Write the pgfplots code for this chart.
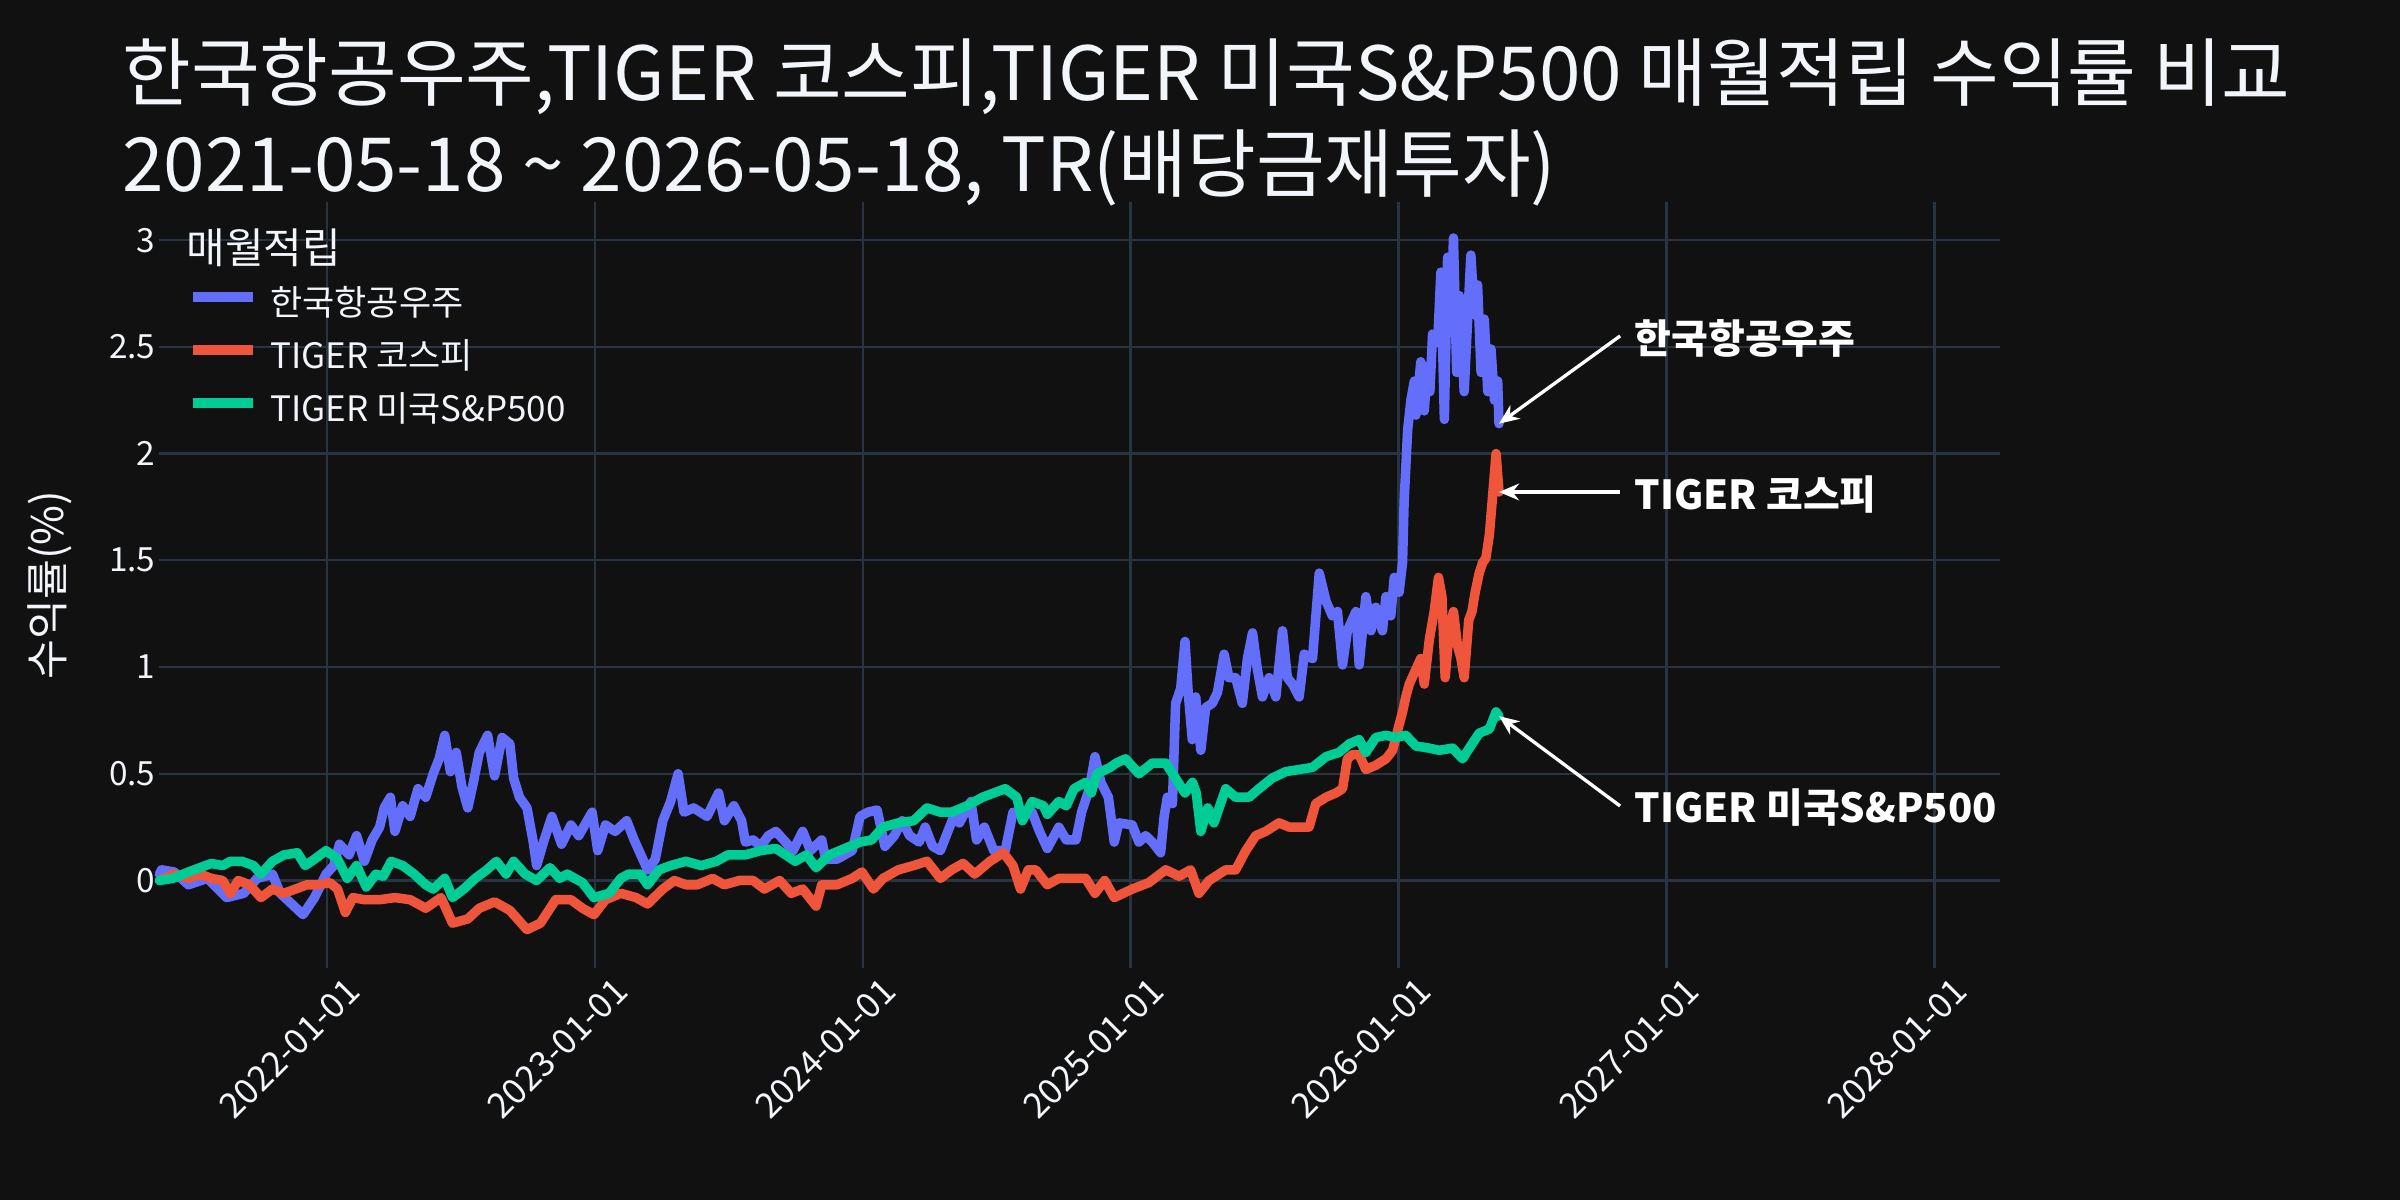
\documentclass[border=0pt]{standalone}
\usepackage{fontspec}
\setmainfont{Noto Sans CJK KR}
\usepackage{pgfplots}
\pgfplotsset{compat=1.18}
\usetikzlibrary{arrows.meta}
\definecolor{bg}{HTML}{111111}
\definecolor{gridc}{HTML}{283442}
\definecolor{fg}{HTML}{F2F5FA}
\definecolor{kai}{HTML}{636EFA}
\definecolor{kospi}{HTML}{EF553B}
\definecolor{spx}{HTML}{00CC96}

\pgfplotstableread{
x y
2021.375 0.03
2021.383 0.05
2021.43 0.04
2021.483 -0.02
2021.554 0.01
2021.626 -0.08
2021.69 -0.06
2021.74 0.01
2021.797 0.03
2021.826 -0.06
2021.869 -0.11
2021.911 -0.16
2021.954 -0.08
2021.997 0.03
2022.026 0.07
2022.047 0.17
2022.083 0.12
2022.111 0.21
2022.14 0.09
2022.169 0.19
2022.197 0.25
2022.214 0.34
2022.237 0.39
2022.254 0.23
2022.283 0.35
2022.311 0.30
2022.34 0.43
2022.369 0.39
2022.397 0.50
2022.419 0.57
2022.44 0.68
2022.461 0.51
2022.483 0.60
2022.504 0.44
2022.526 0.34
2022.547 0.46
2022.569 0.60
2022.6 0.68
2022.626 0.49
2022.654 0.67
2022.683 0.64
2022.697 0.48
2022.719 0.39
2022.747 0.34
2022.769 0.19
2022.783 0.07
2022.811 0.19
2022.84 0.30
2022.876 0.17
2022.911 0.26
2022.94 0.21
2022.99 0.32
2023.011 0.14
2023.04 0.26
2023.076 0.23
2023.119 0.28
2023.147 0.19
2023.197 0.05
2023.226 0.10
2023.254 0.28
2023.283 0.37
2023.311 0.50
2023.333 0.32
2023.369 0.34
2023.419 0.30
2023.462 0.41
2023.484 0.28
2023.519 0.35
2023.548 0.28
2023.562 0.18
2023.591 0.19
2023.619 0.16
2023.648 0.21
2023.676 0.23
2023.705 0.19
2023.74 0.14
2023.776 0.23
2023.805 0.14
2023.847 0.19
2023.862 0.10
2023.904 0.10
2023.961 0.14
2023.99 0.30
2024.019 0.32
2024.054 0.33
2024.083 0.16
2024.118 0.21
2024.147 0.28
2024.175 0.21
2024.211 0.18
2024.233 0.25
2024.261 0.16
2024.29 0.14
2024.318 0.23
2024.34 0.30
2024.361 0.27
2024.404 0.37
2024.425 0.19
2024.454 0.25
2024.489 0.14
2024.532 0.14
2024.561 0.32
2024.596 0.31
2024.632 0.32
2024.66 0.23
2024.689 0.15
2024.732 0.25
2024.76 0.19
2024.796 0.19
2024.817 0.32
2024.846 0.43
2024.867 0.58
2024.889 0.46
2024.917 0.39
2024.939 0.18
2024.956 0.27
2025.006 0.26
2025.031 0.18
2025.056 0.21
2025.081 0.18
2025.112 0.13
2025.125 0.30
2025.137 0.39
2025.156 0.36
2025.168 0.83
2025.187 0.90
2025.203 1.12
2025.215 0.88
2025.23 0.66
2025.243 0.86
2025.262 0.61
2025.28 0.81
2025.305 0.83
2025.324 0.88
2025.349 1.06
2025.367 0.95
2025.392 0.95
2025.417 0.83
2025.436 1.04
2025.455 1.16
2025.473 0.99
2025.492 0.86
2025.517 0.95
2025.542 0.86
2025.567 1.17
2025.585 0.95
2025.604 0.92
2025.629 0.86
2025.648 1.06
2025.679 1.04
2025.704 1.44
2025.729 1.31
2025.753 1.24
2025.772 1.26
2025.791 1.01
2025.809 1.17
2025.841 1.26
2025.853 1.01
2025.878 1.33
2025.897 1.17
2025.915 1.28
2025.94 1.17
2025.953 1.33
2025.971 1.24
2025.984 1.42
2026.002 1.35
2026.015 1.49
2026.021 1.78
2026.034 2.11
2026.046 2.25
2026.059 2.34
2026.065 2.18
2026.083 2.43
2026.096 2.20
2026.108 2.41
2026.117 2.29
2026.127 2.56
2026.146 2.52
2026.158 2.85
2026.171 2.16
2026.183 2.92
2026.196 2.63
2026.205 3.01
2026.217 2.38
2026.227 2.74
2026.245 2.29
2026.258 2.63
2026.27 2.93
2026.283 2.65
2026.295 2.79
2026.308 2.38
2026.32 2.63
2026.333 2.29
2026.345 2.49
2026.358 2.25
2026.37 2.34
2026.375 2.14
}\kaidata

\pgfplotstableread{
x y
2021.375 0.0
2021.426 0.03
2021.483 0.01
2021.526 0.03
2021.569 0.01
2021.611 0.0
2021.64 -0.06
2021.669 0.0
2021.711 -0.02
2021.754 -0.08
2021.797 -0.04
2021.84 -0.06
2021.883 -0.04
2021.926 -0.02
2021.969 -0.02
2022.011 -0.01
2022.04 -0.04
2022.069 -0.15
2022.097 -0.08
2022.14 -0.09
2022.197 -0.09
2022.254 -0.08
2022.311 -0.09
2022.369 -0.13
2022.426 -0.08
2022.469 -0.20
2022.526 -0.18
2022.569 -0.13
2022.626 -0.10
2022.683 -0.14
2022.747 -0.23
2022.797 -0.20
2022.854 -0.09
2022.911 -0.09
2022.954 -0.13
2022.997 -0.16
2023.04 -0.09
2023.097 -0.06
2023.154 -0.08
2023.197 -0.11
2023.254 -0.04
2023.297 0.0
2023.34 -0.02
2023.383 -0.02
2023.44 0.01
2023.483 -0.02
2023.54 0.0
2023.591 0.0
2023.633 -0.04
2023.69 0.0
2023.733 -0.06
2023.776 -0.04
2023.826 -0.12
2023.847 -0.02
2023.904 -0.02
2023.961 0.01
2023.997 0.04
2024.04 -0.04
2024.076 0.01
2024.133 0.05
2024.19 0.07
2024.24 0.09
2024.29 0.01
2024.332 0.05
2024.375 0.08
2024.418 0.03
2024.475 0.09
2024.525 0.13
2024.561 0.07
2024.589 -0.04
2024.618 0.05
2024.646 0.05
2024.689 -0.02
2024.732 0.01
2024.789 0.01
2024.832 0.01
2024.867 -0.06
2024.903 0.0
2024.939 -0.08
2025.006 -0.04
2025.068 -0.01
2025.131 0.05
2025.181 0.02
2025.224 0.05
2025.255 -0.06
2025.293 0.0
2025.355 0.05
2025.392 0.05
2025.43 0.14
2025.467 0.21
2025.504 0.23
2025.554 0.27
2025.592 0.25
2025.629 0.25
2025.666 0.25
2025.691 0.36
2025.729 0.39
2025.766 0.41
2025.791 0.43
2025.809 0.57
2025.828 0.59
2025.853 0.59
2025.878 0.52
2025.915 0.54
2025.953 0.57
2025.978 0.61
2025.996 0.70
2026.015 0.79
2026.027 0.86
2026.04 0.92
2026.065 0.99
2026.083 1.04
2026.096 0.92
2026.115 1.13
2026.133 1.26
2026.149 1.42
2026.162 1.33
2026.174 0.95
2026.189 1.17
2026.205 1.26
2026.22 1.10
2026.233 1.04
2026.245 0.95
2026.262 1.22
2026.274 1.26
2026.286 1.35
2026.301 1.44
2026.314 1.49
2026.326 1.51
2026.339 1.62
2026.351 1.80
2026.364 2.00
2026.375 1.82
}\kospidata

\pgfplotstableread{
x y
2021.375 0.0
2021.426 0.01
2021.483 0.04
2021.526 0.06
2021.569 0.08
2021.611 0.07
2021.64 0.09
2021.683 0.09
2021.726 0.07
2021.754 0.03
2021.797 0.09
2021.84 0.12
2021.89 0.13
2021.919 0.07
2021.954 0.10
2021.997 0.14
2022.04 0.10
2022.076 0.01
2022.111 0.07
2022.147 -0.03
2022.183 0.03
2022.211 0.02
2022.24 0.09
2022.283 0.07
2022.326 0.03
2022.369 -0.02
2022.397 -0.04
2022.44 0.01
2022.469 -0.08
2022.511 -0.04
2022.554 0.01
2022.597 0.05
2022.633 0.09
2022.669 0.03
2022.697 0.09
2022.74 0.03
2022.783 0.0
2022.833 0.06
2022.869 0.01
2022.897 0.03
2022.954 -0.01
2022.997 -0.08
2023.054 -0.06
2023.097 0.01
2023.126 0.03
2023.169 0.03
2023.197 -0.02
2023.24 0.05
2023.283 0.07
2023.34 0.09
2023.397 0.07
2023.454 0.09
2023.497 0.12
2023.562 0.12
2023.619 0.14
2023.676 0.15
2023.748 0.09
2023.79 0.12
2023.826 0.06
2023.876 0.12
2023.933 0.15
2023.99 0.18
2024.033 0.19
2024.076 0.25
2024.133 0.27
2024.19 0.28
2024.24 0.34
2024.29 0.32
2024.332 0.32
2024.389 0.35
2024.447 0.39
2024.489 0.41
2024.532 0.43
2024.575 0.39
2024.596 0.28
2024.632 0.37
2024.675 0.35
2024.689 0.31
2024.732 0.37
2024.76 0.35
2024.789 0.43
2024.832 0.46
2024.853 0.41
2024.874 0.50
2024.924 0.53
2024.946 0.55
2024.981 0.57
2025.031 0.50
2025.081 0.55
2025.131 0.55
2025.167 0.48
2025.203 0.41
2025.231 0.46
2025.245 0.41
2025.262 0.23
2025.288 0.34
2025.311 0.27
2025.355 0.43
2025.392 0.39
2025.442 0.39
2025.479 0.43
2025.529 0.48
2025.579 0.51
2025.629 0.52
2025.679 0.53
2025.729 0.58
2025.778 0.60
2025.816 0.64
2025.853 0.66
2025.878 0.60
2025.915 0.67
2025.953 0.68
2025.99 0.67
2026.027 0.68
2026.065 0.63
2026.115 0.62
2026.152 0.61
2026.202 0.62
2026.239 0.57
2026.264 0.62
2026.301 0.69
2026.339 0.71
2026.364 0.79
2026.375 0.77
}\spxdata

\begin{document}
\begin{tikzpicture}
\path[use as bounding box, fill=bg] (0pt,0pt) rectangle (720pt,360pt);
\node[anchor=base west, inner sep=0pt, text=fg, font=\fontsize{22.4}{26}\selectfont] at (36.5pt,330pt) {한국항공우주,TIGER 코스피,TIGER 미국S\&P500 매월적립 수익률 비교};
\node[anchor=base west, inner sep=0pt, text=fg, font=\fontsize{22.4}{26}\selectfont] at (36.5pt,302.7pt) {2021-05-18 \textasciitilde{} 2026-05-18, TR(배당금재투자)};
\node[rotate=90, inner sep=0pt, text=fg, font=\fontsize{13}{15}\selectfont] at (15pt,184.5pt) {수익률(\%)};
\begin{axis}[
  at={(47.82pt,69.6pt)}, anchor=south west,
  scale only axis, width=552.18pt, height=229.89pt,
  xmin=2021.375, xmax=2028.245, ymin=-0.41, ymax=3.18,
  clip=false,
  axis line style={draw=none},
  tick style={draw=none},
  xtick={2022,2023,2024,2025,2026,2027,2028},
  xticklabels={2022-01-01,2023-01-01,2024-01-01,2025-01-01,2026-01-01,2027-01-01,2028-01-01},
  ytick={0,0.5,1,1.5,2,2.5,3},
  yticklabels={0,0.5,1,1.5,2,2.5,3},
  extra y ticks={0},
  extra y tick labels={},
  extra y tick style={grid style={color=gridc, line width=1.4pt}},
  grid=major,
  major grid style={color=gridc, line width=0.7pt},
  yticklabel style={text=fg, font=\fontsize{10}{12}\selectfont, anchor=east, inner sep=0pt, xshift=-1pt},
  xticklabel style={text=fg, font=\fontsize{10.5}{12}\selectfont, rotate=45, anchor=north east, inner sep=0pt, xshift=2.2pt, yshift=-5.1pt},
  legend style={at={(0.01554,0.8878)}, anchor=north west, draw=none, fill=none, text=fg,
    font=\fontsize{10.5}{12}\selectfont, inner sep=0pt, row sep=5.4pt,
    nodes={inner sep=0pt, text height=8pt, text depth=2.5pt},
    /tikz/every odd column/.append style={column sep=3.6pt}},
  legend cell align=left,
  legend image code/.code={\draw[#1, line width=2.9pt, line cap=butt] (0pt,2.75pt) -- (18pt,2.75pt);},
]
\addplot[color=kai, line width=2.85pt, line join=round, line cap=round] table[x=x,y=y] {\kaidata};
\addlegendentry{한국항공우주}
\addplot[color=kospi, line width=2.85pt, line join=round, line cap=round] table[x=x,y=y] {\kospidata};
\addlegendentry{TIGER 코스피}
\addplot[color=spx, line width=2.85pt, line join=round, line cap=round] table[x=x,y=y] {\spxdata};
\addlegendentry{TIGER 미국S\&P500}
\node[anchor=west, inner sep=0pt, text=fg, font=\fontsize{12.6}{14}\selectfont] at (rel axis cs:0.01445,0.9396) {매월적립};
\draw[white, line width=1pt, -{Stealth[length=6pt, width=5pt]}] (axis cs:2026.827,2.551) -- (axis cs:2026.375,2.14);
\draw[white, line width=1pt, -{Stealth[length=6pt, width=5pt]}] (axis cs:2026.827,1.82) -- (axis cs:2026.375,1.82);
\draw[white, line width=1pt, -{Stealth[length=6pt, width=5pt]}] (axis cs:2026.827,0.349) -- (axis cs:2026.375,0.77);
\node[anchor=west, inner sep=0pt, text=white, font=\bfseries\fontsize{12}{14}\selectfont] at (axis cs:2026.879,2.541) {한국항공우주};
\node[anchor=west, inner sep=0pt, text=white, font=\bfseries\fontsize{12}{14}\selectfont] at (axis cs:2026.879,1.806) {TIGER 코스피};
\node[anchor=west, inner sep=0pt, text=white, font=\bfseries\fontsize{12}{14}\selectfont] at (axis cs:2026.879,0.34) {TIGER 미국S\&P500};
\end{axis}
\end{tikzpicture}
\end{document}
